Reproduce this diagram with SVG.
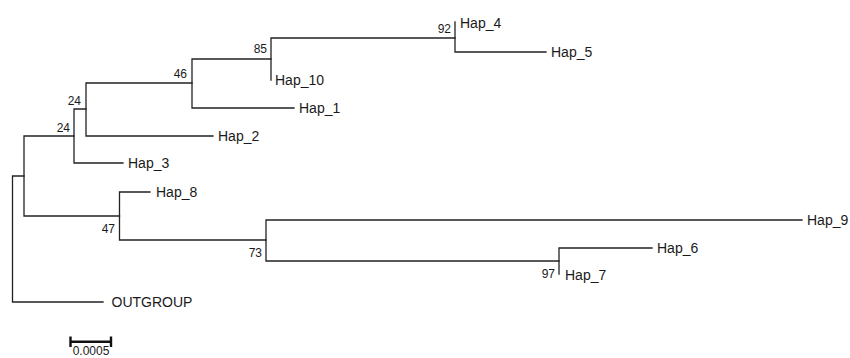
<svg xmlns="http://www.w3.org/2000/svg" width="850" height="358" viewBox="0 0 850 358">
  <style>
    .br { fill: none; stroke: #222; stroke-width: 1.3; stroke-linecap: square; }
    .leaf { font-family: "Liberation Sans", Arial, sans-serif; font-size: 14px; fill: #1a1a1a; }
    .bs { font-family: "Liberation Sans", Arial, sans-serif; font-size: 12px; fill: #1a1a1a; text-anchor: end; }
    .scale { fill: none; stroke: #111; stroke-width: 2.4; }
  </style>
  <rect width="850" height="358" fill="#ffffff"/>
  <g id="connectors">
    <path class="br" d="M12.5,176 V302 M12.5,176 H24 M12.5,302 H103"/>
    <path class="br" d="M24,136 V216 M24,136 H74 M24,216 H119.5"/>
    <path class="br" d="M74,109 V163 M74,109 H86 M74,163 H123"/>
    <path class="br" d="M86,83 V136 M86,83 H192 M86,136 H213"/>
    <path class="br" d="M192,59 V108 M192,59 H271 M192,108 H294"/>
    <path class="br" d="M271,38 V80 M271,38 H455"/>
    <path class="br" d="M455,22 V52 M455,52 H546"/>
    <path class="br" d="M119.5,192 V240 M119.5,192 H150 M119.5,240 H266"/>
    <path class="br" d="M266,220 V261 M266,220 H802 M266,261 H559"/>
    <path class="br" d="M559,248 V274 M559,248 H652"/>
  </g>
  <g id="node-n92"><text class="bs" x="451" y="33">92</text></g>
  <g id="node-n85"><text class="bs" x="267" y="53">85</text></g>
  <g id="node-n46"><text class="bs" x="187" y="78">46</text></g>
  <g id="node-n24a"><text class="bs" x="81" y="105">24</text></g>
  <g id="node-n24b"><text class="bs" x="70" y="131.5">24</text></g>
  <g id="node-n47"><text class="bs" x="115" y="233">47</text></g>
  <g id="node-n73"><text class="bs" x="262" y="257">73</text></g>
  <g id="node-n97"><text class="bs" x="555" y="277.5">97</text></g>
  <g id="node-hap4"><text class="leaf" x="460" y="28">Hap_4</text></g>
  <g id="node-hap5"><text class="leaf" x="551" y="57">Hap_5</text></g>
  <g id="node-hap10"><text class="leaf" x="275" y="85">Hap_10</text></g>
  <g id="node-hap1"><text class="leaf" x="299" y="113">Hap_1</text></g>
  <g id="node-hap2"><text class="leaf" x="218" y="141">Hap_2</text></g>
  <g id="node-hap3"><text class="leaf" x="128" y="168">Hap_3</text></g>
  <g id="node-hap8"><text class="leaf" x="156" y="197">Hap_8</text></g>
  <g id="node-hap9"><text class="leaf" x="807" y="225">Hap_9</text></g>
  <g id="node-hap6"><text class="leaf" x="657" y="253">Hap_6</text></g>
  <g id="node-hap7"><text class="leaf" x="565" y="279.5">Hap_7</text></g>
  <g id="node-outgroup"><text class="leaf" x="111.5" y="307">OUTGROUP</text></g>
  <g id="scale-bar">
    <path class="scale" d="M70.5,341.7 H111 M70.5,336.5 V347 M111,336.5 V347"/>
    <text class="bs" x="91" y="355" style="text-anchor: middle;">0.0005</text>
  </g>
</svg>
